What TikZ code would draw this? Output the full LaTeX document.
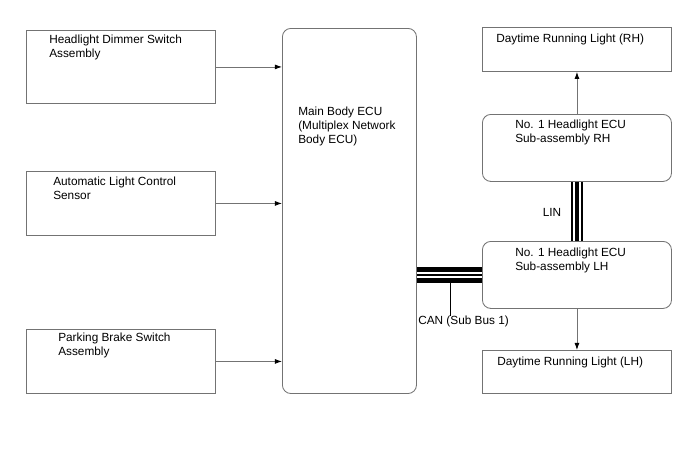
\documentclass[tikz,border=0pt]{standalone}
\usepackage{fontspec}
\setmainfont{Liberation Sans}
\usetikzlibrary{arrows.meta}

\tikzset{
    box/.style={draw=black!55, line width=0.6pt, anchor=north west, inner sep=0pt, minimum width=4.725cm},
    ecubox/.style={box, rounded corners=6pt},
    txt/.style={anchor=north west, align=left, inner sep=0pt, font=\fontsize{8.4}{10}\selectfont},
    sig/.style={draw=black!55, line width=0.6pt, -{Latex[length=5pt, width=3.5pt, black]}},
}

\begin{document}
\begin{tikzpicture}[x=0.025cm, y=-0.025cm]
    \useasboundingbox (0,0) rectangle (688,463);
    % inputs on the left
    \node[box, minimum height=1.825cm] (dimmer) at (26,30) {};
    \node[box, minimum height=1.6cm] (autolight) at (26,171) {};
    \node[box, minimum height=1.6cm] (parking) at (26,329) {};
    \node[txt] at ([shift={(23,5)}]dimmer.north west) {Headlight Dimmer Switch\\Assembly};
    \node[txt] at ([shift={(27,6)}]autolight.north west) {Automatic Light Control\\Sensor};
    \node[txt] at ([shift={(32,4)}]parking.north west) {Parking Brake Switch\\Assembly};
    % main body ecu
    \node[ecubox, minimum width=3.35cm, minimum height=9.125cm] (mainecu) at (282,28) {};
    \node[txt] at ([shift={(16,79)}]mainecu.north west) {Main Body ECU\\(Multiplex Network\\Body ECU)};
    % right side
    \node[box, minimum height=1.1cm] (drlrh) at (482,27) {};
    \node[ecubox, minimum height=1.675cm] (ecurh) at (482,114) {};
    \node[ecubox, minimum height=1.675cm] (eculh) at (482,241) {};
    \node[box, minimum height=1.075cm] (drllh) at (482,350) {};
    \node[txt] at ([shift={(14,7)}]drlrh.north west) {Daytime Running Light (RH)};
    \node[txt] at ([shift={(33,6)}]ecurh.north west) {No. 1 Headlight ECU\\Sub-assembly RH};
    \node[txt] at ([shift={(33,7)}]eculh.north west) {No. 1 Headlight ECU\\Sub-assembly LH};
    \node[txt] at ([shift={(15,7)}]drllh.north west) {Daytime Running Light (LH)};
    % signal arrows
    \draw[sig] (dimmer.east) -- (dimmer.east -| mainecu.west);
    \draw[sig] (autolight.east) -- (autolight.east -| mainecu.west);
    \draw[sig] (parking.east) -- (parking.east -| mainecu.west);
    \draw[sig] (ecurh.north) -- (drlrh.south);
    \draw[sig] (eculh.south) -- (drllh.north);
    % lin bus
    \draw[line width=1.2pt] ([shift={(-5,0)}]ecurh.south) -- ([shift={(-5,0)}]eculh.north);
    \draw[line width=3pt] (ecurh.south) -- (eculh.north);
    \draw[line width=1.2pt] ([shift={(5,0)}]ecurh.south) -- ([shift={(5,0)}]eculh.north);
    \node[txt, anchor=center] (lin) at (552,212) {LIN};
    % can bus
    \draw[line width=3.2pt] ([shift={(0,-5.5)}]eculh.west -| mainecu.east) -- ([shift={(0,-5.5)}]eculh.west);
    \draw[line width=0.8pt] (eculh.west -| mainecu.east) -- (eculh.west);
    \draw[line width=3.2pt] ([shift={(0,5.5)}]eculh.west -| mainecu.east) -- ([shift={(0,5.5)}]eculh.west);
    \node[txt] (can) at (418,316) {CAN (Sub Bus 1)};
    \coordinate (cantap) at (450,283);
    \draw[line width=0.6pt] (cantap) -- (cantap |- can.north);
\end{tikzpicture}
\end{document}
